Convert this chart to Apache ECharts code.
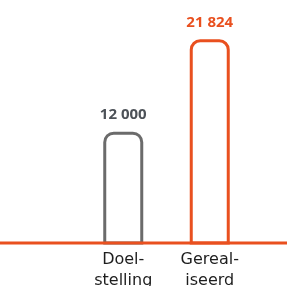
<!DOCTYPE html>
<html>
<head>
<meta charset="utf-8">
<script src="https://cdn.jsdelivr.net/npm/echarts@6/dist/echarts.min.js"></script>
<style>
  html, body { margin: 0; padding: 0; background: #fff; }
  #chart { width: 287px; height: 286px; }
</style>
</head>
<body>
<div id="chart"></div>
<script>
const categories = ['Doel-\nstelling', 'Gereal-\niseerd']
const values = [12000, 21824]
const barColors = ['#6b6b6b', '#e9501f']
const labelColors = ['#4d5258', '#e9501f']

// thousands separated by a space, like "12 000"
function fmt(v) {
  return String(v).replace(/\B(?=(\d{3})+(?!\d))/g, ' ')
}

const chart = echarts.init(document.getElementById('chart'))

chart.setOption({
  animation: false,
  grid: { left: 80, right: 34, top: 0, bottom: 41.5, outerBoundsMode: 'none', containLabel: false },
  xAxis: {
    type: 'category',
    data: categories,
    axisLine: { show: false },
    axisTick: { show: false },
    axisLabel: {
      interval: 0,
      margin: 4.5,
      color: '#1e1e1e',
      fontFamily: 'DejaVu Sans',
      fontSize: 16,
      lineHeight: 21
    }
  },
  yAxis: {
    type: 'value',
    min: 0,
    max: 26000,
    show: false,
    splitLine: { show: false }
  },
  // baseline runs across the whole width, over the bar bottoms
  graphic: [{
    type: 'line',
    z: 100,
    shape: { x1: 0, y1: 243, x2: 287, y2: 243 },
    style: { stroke: '#e9501f', lineWidth: 3 }
  }],
  series: [{
    type: 'bar',
    barWidth: 40,
    data: values.map((v, i) => ({
      value: v,
      itemStyle: {
        color: '#fff',
        borderColor: barColors[i],
        borderWidth: 3,
        borderRadius: [9, 9, 0, 0]
      },
      label: { color: labelColors[i] }
    })),
    label: {
      show: true,
      position: 'top',
      distance: 9,
      fontFamily: 'Open Sans',
      fontWeight: 'bold',
      fontSize: 15,
      formatter: p => fmt(p.value)
    }
  }]
})
</script>
</body>
</html>
